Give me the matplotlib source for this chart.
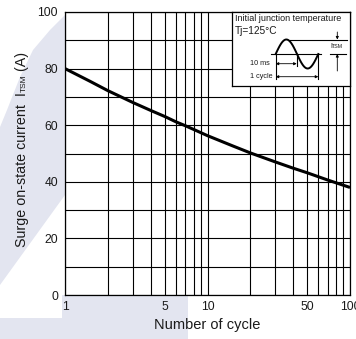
import matplotlib
matplotlib.use("Agg")
import matplotlib.pyplot as plt
import numpy as np
from matplotlib.patches import Polygon, Rectangle

plt.rcParams["font.family"] = ["Liberation Sans", "DejaVu Sans"]

# Surge on-state current vs. number of cycles
cycles = [1, 1.5, 2, 3, 4, 5, 6, 7, 8, 10, 15, 20, 30, 40, 50, 70, 100]
itsm = [80, 75.5, 72.2, 68.0, 65.2, 63.1, 61.2, 59.8, 58.5, 56.3, 52.7, 50.2,
        47.0, 44.8, 43.2, 40.6, 38.0]

x_ticks = [1, 5, 10, 50, 100]
x_minor = [2, 3, 4, 6, 7, 8, 9, 20, 30, 40, 60, 70, 80, 90]
y_ticks = [0, 20, 40, 60, 80, 100]
y_minor = [10, 30, 50, 70, 90]

W, H = 356, 339
fig = plt.figure(figsize=(W / 100, H / 100), dpi=100)
fig.patch.set_facecolor("white")


def fx(px):
    return px / W


def fy(py):
    return 1 - py / H


# faint background shading
shade = "#e3e5f0"
left_band = [(65, 15), (50, 30), (33, 50), (20, 77), (7, 110), (0, 127),
             (0, 285), (65, 195)]
fig.add_artist(Polygon([(fx(a), fy(b)) for a, b in left_band], closed=True,
                       transform=fig.transFigure, facecolor=shade,
                       edgecolor="none", zorder=0))
fig.add_artist(Rectangle((fx(62), fy(339)), fx(188) - fx(62), fy(295) - fy(339),
                         transform=fig.transFigure, facecolor=shade,
                         edgecolor="none", zorder=0))
fig.add_artist(Rectangle((fx(0), fy(339)), fx(188), fy(318) - fy(339),
                         transform=fig.transFigure, facecolor=shade,
                         edgecolor="none", zorder=0))

ax = fig.add_axes([fx(65), fy(295), fx(350) - fx(65), fy(12) - fy(295)])
ax.set_facecolor("white")
ax.set_xscale("log")
ax.set_xlim(1, 100)
ax.set_ylim(0, 100)
ax.set_xticks(x_ticks)
ax.set_xticklabels([str(v) for v in x_ticks])
ax.set_xticks(x_minor, minor=True)
ax.set_xticklabels([], minor=True)
ax.set_yticks(y_ticks)
ax.set_yticklabels([str(v) for v in y_ticks])
ax.set_yticks(y_minor, minor=True)
ax.tick_params(which="both", length=0, labelsize=8.7, colors="#1a1a1a")
ax.tick_params(axis="x", pad=4)
ax.tick_params(axis="y", pad=5)
ax.grid(True, which="both", color="black", linewidth=0.8)
for s in ax.spines.values():
    s.set_linewidth(0.9)
    s.set_color("black")

ax.plot(cycles, itsm, color="black", linewidth=2.2, solid_capstyle="butt",
        solid_joinstyle="round", zorder=3)

ax.set_xlabel("Number of cycle", fontsize=10.5, labelpad=4, color="#1a1a1a")

# y-axis label with small-caps style "TSM"
fig.canvas.draw()
renderer = fig.canvas.get_renderer()
pieces = [("Surge on-state current  I", 10.3), ("TSM", 6.0), (" (A)", 10.3)]
widths = []
for txt, sz in pieces:
    t = fig.text(0, 0, txt, fontsize=sz)
    widths.append(t.get_window_extent(renderer).width)
    t.remove()
total = sum(widths)
y_center = H - 149.5
y0 = y_center - total / 2
xb = 26.0
pos = y0
for (txt, sz), w in zip(pieces, widths):
    fig.text(fx(xb), pos / H, txt, fontsize=sz, rotation=90,
             rotation_mode="anchor", ha="left", va="baseline",
             color="#1a1a1a")
    pos += w

# inset describing the test waveform
ax_in = fig.add_axes([fx(231.7), fy(86), fx(350) - fx(231.7), fy(12) - fy(86)],
                     zorder=5)
ax_in.set_xlim(231.7, 350)
ax_in.set_ylim(86, 12)
ax_in.set_xticks([])
ax_in.set_yticks([])
ax_in.set_facecolor("white")
for s in ax_in.spines.values():
    s.set_linewidth(0.9)

ax_in.text(235, 18.5, "Initial junction temperature", fontsize=6.5,
           va="center", ha="left", color="#1a1a1a")
ax_in.text(234.5, 31, "Tj=125°C", fontsize=7.3, va="center", ha="left",
           color="#1a1a1a")

xs = np.linspace(275.7, 318.3, 80)
ys = 54 - 14.5 * np.sin(2 * np.pi * (xs - 275.7) / (318.3 - 275.7))
ax_in.plot(xs, ys, color="black", lw=1.4)
ax_in.plot([270.5, 321], [54, 54], color="black", lw=0.8)
ax_in.plot([330, 346], [54, 54], color="black", lw=0.8)
ax_in.plot([290, 346.5], [39.5, 39.5], color="black", lw=0.8)
for xv, y2 in [(275.7, 79), (296.7, 66), (318.3, 79)]:
    ax_in.plot([xv, xv], [54, y2], color="black", lw=0.8)

ap = dict(arrowstyle="<|-|>", lw=0.6, color="black", mutation_scale=4,
          shrinkA=0, shrinkB=0)
ax_in.annotate("", xy=(275.7, 63.7), xytext=(296.7, 63.7), arrowprops=ap)
ax_in.annotate("", xy=(275.7, 76.7), xytext=(318.3, 76.7), arrowprops=ap)
ap1 = dict(arrowstyle="-|>", lw=0.6, color="black", mutation_scale=4,
           shrinkA=0, shrinkB=0)
ax_in.annotate("", xy=(337.3, 39.5), xytext=(337.3, 32), arrowprops=ap1)
ax_in.annotate("", xy=(337.3, 54), xytext=(337.3, 71), arrowprops=ap1)
ax_in.text(269.5, 63.2, "10 ms", fontsize=5.2, ha="right", va="center",
           color="#1a1a1a")
ax_in.text(272.5, 76.5, "1 cycle", fontsize=5.2, ha="right", va="center",
           color="#1a1a1a")
ax_in.text(330.5, 46.5, "I", fontsize=5.2, ha="left", va="center",
           color="#1a1a1a")
ax_in.text(332.3, 46.8, "TSM", fontsize=3.8, ha="left", va="center",
           color="#1a1a1a")

fig.savefig("out.png", dpi=100)
